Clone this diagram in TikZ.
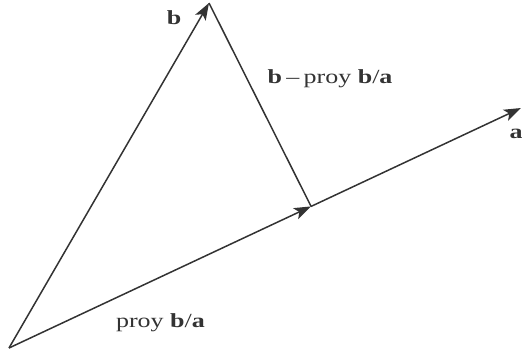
\documentclass[tikz,border=0pt]{standalone}
\usepackage{fontspec}
\usepackage{graphicx}
\setmainfont{Liberation Serif}
\usetikzlibrary{arrows.meta,calc}
\newcommand{\wide}[1]{\scalebox{1.3}[1]{#1}}
\begin{document}
\begin{tikzpicture}[x=1pt,y=-1pt,
  ln/.style={draw=black!80, line width=1.5pt},
  vec/.style={ln, -{Stealth[length=17pt,width=12pt,inset=4pt]}},
  lbl/.style={text=black!80, font=\fontsize{20}{24}\selectfont, inner sep=0pt}]
\useasboundingbox (0,0) rectangle (522,354);
\coordinate (O) at (9,348);
\coordinate (B) at (209,3);
\coordinate (A) at (521,108);
\coordinate (P) at ($(O)!0.59!(A)$);
\draw[vec] (O) -- (P);
\draw[vec] (P) -- (A);
\draw[vec] (O) -- (B);
\draw[ln] (B) -- (P);
\node[lbl] (la) at (516,134) {\wide{\textbf{a}}};
\node[lbl] (lb) at (174,18) {\wide{\textbf{b}}};
\node[lbl,anchor=base] (lbp) at (330,83) {\wide{\textbf{b}\,--\,proy \textbf{b}/\textbf{a}}};
\node[lbl,anchor=base] (lp) at (160.5,327) {\wide{proy \textbf{b}/\textbf{a}}};
\end{tikzpicture}
\end{document}
